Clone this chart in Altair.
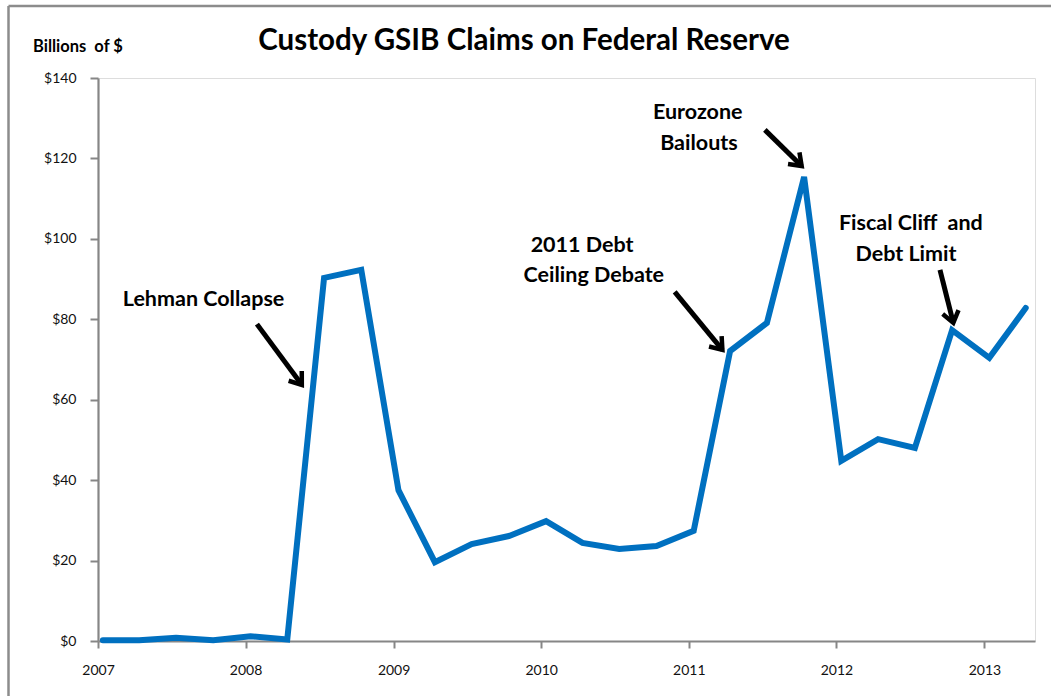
import math
import altair as alt
import pandas as pd

# ---- data ----
dates = [
    "2007-01-13", "2007-04-13", "2007-07-13", "2007-10-13",
    "2008-01-13", "2008-04-13", "2008-07-13", "2008-10-13",
    "2009-01-13", "2009-04-13", "2009-07-13", "2009-10-13",
    "2010-01-13", "2010-04-13", "2010-07-13", "2010-10-13",
    "2011-01-13", "2011-04-13", "2011-07-13", "2011-10-13",
    "2012-01-13", "2012-04-13", "2012-07-13", "2012-10-13",
    "2013-01-13", "2013-04-13",
]
claims = [
    0.2, 0.2, 0.8, 0.2,
    1.2, 0.4, 90.3, 92.3,
    37.5, 19.6, 24.1, 26.1,
    29.8, 24.4, 22.9, 23.6,
    27.4, 72.1, 79.1, 115.4,
    44.8, 50.2, 48.0, 77.3,
    70.4, 82.8,
]

# annotation labels (text, date, value)
note_text = ["Lehman Collapse", "2011 Debt", "Ceiling Debate", "Eurozone", "Bailouts",
             "Fiscal Cliff\u00a0\u00a0and", "Debt Limit"]
note_date = ["2007-09-19", "2010-04-12", "2010-05-11", "2011-01-23", "2011-01-26",
             "2012-07-03", "2012-06-21"]
note_value = [84.8, 98.2, 90.7, 131.3, 123.6, 103.6, 96.1]

# arrows (start date/value -> end date/value)
arrow_x1 = ["2008-01-29", "2010-11-27", "2011-07-08", "2012-09-13"]
arrow_y1 = [78.8, 86.8, 127.1, 92.3]
arrow_x2 = ["2008-05-19", "2011-03-25", "2011-10-07", "2012-10-16"]
arrow_y2 = [63.7, 72.4, 118.1, 79.1]

y_ticks = [0, 20, 40, 60, 80, 100, 120, 140]

# ---- layout ----
W, H = 937, 563
X0, X1 = "2007-01-01", "2013-05-06"
px_per_day = W / (pd.Timestamp(X1) - pd.Timestamp(X0)).days
px_per_unit = H / 140.0

FONT = "Lato"
BLUE = "#0070C0"
GRAY = "#868686"

df = pd.DataFrame({"date": dates, "claims": claims})
notes = pd.DataFrame({"text": note_text, "date": note_date, "value": note_value})

arr = pd.DataFrame({"x1": arrow_x1, "y1": arrow_y1, "x2": arrow_x2, "y2": arrow_y2})
angles = []
for a, b, c, d in zip(arrow_x1, arrow_y1, arrow_x2, arrow_y2):
    dx = (pd.Timestamp(c) - pd.Timestamp(a)).days * px_per_day
    dy = -(d - b) * px_per_unit
    angles.append(math.degrees(math.atan2(dy, dx)) % 360)
arr["angle"] = angles

xscale = alt.Scale(domain=[X0, X1])
yscale = alt.Scale(domain=[0, 140], nice=False)

line = alt.Chart(df).mark_line(
    color=BLUE, strokeWidth=6, strokeCap="round", strokeJoin="miter"
).encode(
    x=alt.X("date:T", scale=xscale, title=None,
            axis=alt.Axis(format="%Y", tickCount={"interval": "year", "step": 1},
                          grid=False, domainColor=GRAY, domainWidth=2.2,
                          tickColor=GRAY, tickWidth=2, tickSize=7,
                          labelPadding=15, labelFont=FONT, labelFontSize=14,
                          labelFontWeight="normal",
                          labelColor="#111111", labelFlush=False)),
    y=alt.Y("claims:Q", scale=yscale, title=None,
            axis=alt.Axis(values=y_ticks, labelExpr="'$' + datum.value",
                          grid=False, domainColor=GRAY, domainWidth=2.2,
                          tickColor=GRAY, tickWidth=2, tickSize=8,
                          labelPadding=14, labelFont=FONT, labelFontSize=14,
                          labelFontWeight="normal",
                          labelColor="#111111")),
)

shafts = alt.Chart(arr).mark_rule(color="black", strokeWidth=5, strokeCap="butt").encode(
    x="x1:T", y="y1:Q", x2="x2:T", y2="y2:Q"
)
heads = alt.Chart(arr).mark_point(
    shape="M-1.5,-1.1L0,0L-1.5,1.1", filled=False, stroke="black",
    strokeWidth=4.5, size=220, opacity=1, strokeJoin="miter"
).encode(
    x="x2:T", y="y2:Q", angle=alt.Angle("angle:Q", scale=None)
)

texts = alt.Chart(notes).mark_text(
    font=FONT, fontSize=21.5, fontWeight="bold", color="black", align="center", baseline="middle"
).encode(x="date:T", y="value:Q", text="text:N")

one = pd.DataFrame({"a": [0]})
title = alt.Chart(one).mark_text(
    text="Custody GSIB Claims on Federal Reserve", font=FONT, fontSize=29.5,
    fontWeight="bold", color="black", align="center", baseline="middle"
).encode(x=alt.value(426), y=alt.value(-37))
ylab = alt.Chart(one).mark_text(
    text="Billions\u00a0\u00a0of $", font=FONT, fontSize=16.5, fontWeight="bold",
    color="black", align="left", baseline="middle"
).encode(x=alt.value(-65), y=alt.value(-31))

border_left = alt.Chart(one).mark_rule(color="#8c8c8c", strokeWidth=2.5).encode(
    x=alt.value(-89.5), y=alt.value(-72), y2=alt.value(700))
border_top = alt.Chart(one).mark_rule(color="#8c8c8c", strokeWidth=2.5).encode(
    x=alt.value(-89.5), x2=alt.value(1000), y=alt.value(-72))

chart = alt.layer(
    border_left, border_top, line, shafts, heads, texts, title, ylab
).properties(
    width=W, height=H,
    autosize=alt.AutoSizeParams(type="none"),
    padding={"left": 98, "top": 78, "right": 16, "bottom": 55},
).configure_view(stroke=None).configure(background="white")

chart.save("out.html", embed_options={"renderer": "svg", "actions": False})
